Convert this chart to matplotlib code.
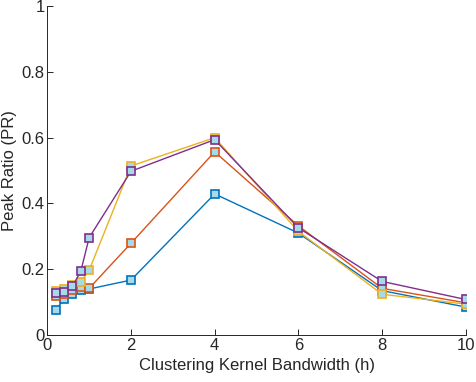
import numpy as np
import matplotlib
matplotlib.use("Agg")
import matplotlib.pyplot as plt

plt.rcParams['font.family'] = ['Liberation Sans', 'DejaVu Sans']

# kernel bandwidths
h = [0.2, 0.4, 0.6, 0.8, 1, 2, 4, 6, 8, 10]

pr_blue = [0.077, 0.108, 0.124, 0.138, 0.140, 0.167, 0.429, 0.310, 0.135, 0.085]
pr_orange = [0.118, 0.125, 0.138, 0.145, 0.142, 0.279, 0.557, 0.332, 0.142, 0.098]
pr_yellow = [0.134, 0.140, 0.152, 0.162, 0.197, 0.514, 0.600, 0.315, 0.124, 0.094]
pr_purple = [0.128, 0.130, 0.148, 0.194, 0.296, 0.498, 0.594, 0.326, 0.163, 0.108]

colors = ['#0072BD', '#D95319', '#EDB120', '#7E2F8E']
face = '#A6DAE6'

fig = plt.figure(figsize=(4.76, 3.82), dpi=100)
ax = fig.add_axes([0.0994, 0.123, 0.8790, 0.861])

for ys, c in zip([pr_blue, pr_orange, pr_yellow, pr_purple], colors):
    ax.plot(h, ys, '-s', color=c, lw=1.0, ms=6.3, mfc=face, mec=c, mew=1.2)

ax.set_xlim(0, 10)
ax.set_ylim(0, 1)
ax.set_xticks([0, 2, 4, 6, 8, 10])
ax.set_yticks([0, 0.2, 0.4, 0.6, 0.8, 1])
ax.set_yticklabels(['0', '0.2', '0.4', '0.6', '0.8', '1'])
ax.spines['top'].set_visible(False)
ax.spines['right'].set_visible(False)
for s in ['left', 'bottom']:
    ax.spines[s].set_color('#262626')
    ax.spines[s].set_linewidth(0.7)
ax.tick_params(direction='in', length=4, width=0.7, colors='#262626', labelsize=12, pad=2)
ax.set_xlabel('Clustering Kernel Bandwidth (h)', fontsize=12, color='#262626', labelpad=4)
ax.set_ylabel('Peak Ratio (PR)', fontsize=12, color='#262626', labelpad=3)

fig.savefig('out.png', dpi=100)
